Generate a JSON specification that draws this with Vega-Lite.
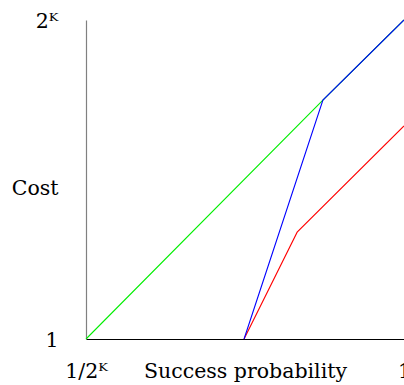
{
  "$schema": "https://vega.github.io/schema/vega-lite/v6.json",
  "width": 318,
  "height": 319,
  "autosize": "none",
  "padding": {"left": 86, "top": 20, "right": 0, "bottom": 46},
  "background": "white",
  "config": {
    "view": {"stroke": null},
    "font": "DejaVu Serif",
    "axis": {"grid": false, "ticks": false, "labelFont": "DejaVu Serif", "titleFont": "DejaVu Serif", "labelFontSize": 20.5, "titleFontSize": 20.5, "labelColor": "black", "titleColor": "black", "titleFontWeight": "normal"}
  },
  "data": {
    "values": [
      {"series": "green", "x": 0, "y": 0, "o": 0},
      {"series": "green", "x": 0.745, "y": 0.749, "o": 1},
      {"series": "green", "x": 1, "y": 1, "o": 2},
      {"series": "red", "x": 0.497, "y": 0, "o": 0},
      {"series": "red", "x": 0.664, "y": 0.335, "o": 1},
      {"series": "red", "x": 1, "y": 0.668, "o": 2},
      {"series": "blue", "x": 0.497, "y": 0, "o": 0},
      {"series": "blue", "x": 0.745, "y": 0.749, "o": 1},
      {"series": "blue", "x": 1, "y": 1, "o": 2}
    ]
  },
  "encoding": {
    "x": {
      "field": "x", "type": "quantitative",
      "scale": {"domain": [0, 1], "nice": false, "zero": false},
      "axis": {
        "values": [0, 1],
        "labelExpr": "datum.value == 0 ? '1/2ᴷ' : '1'",
        "labelFlush": false, "labelOverlap": false,
        "labelBaseline": "alphabetic", "labelPadding": 38, "tickSize": 0,
        "domainColor": "black", "domainWidth": 1.2,
        "title": "Success probability",
        "titleBaseline": "alphabetic", "titleY": 38, "titlePadding": 0
      }
    },
    "y": {
      "field": "y", "type": "quantitative",
      "scale": {"domain": [0, 1], "nice": false, "zero": false},
      "axis": {
        "values": [0, 1],
        "labelExpr": "datum.value == 1 ? '2ᴷ' : '1'",
        "labelFlush": false, "labelOverlap": false,
        "labelAlign": "right", "labelBaseline": "alphabetic", "labelOffset": 7,
        "labelPadding": 28, "tickSize": 0,
        "domainColor": "#808080", "domainWidth": 1.2,
        "title": "Cost", "titleAngle": 0, "titleAlign": "right",
        "titleBaseline": "alphabetic", "titleX": -28, "titleY": 174
      }
    },
    "order": {"field": "o", "type": "quantitative"}
  },
  "layer": [
    {"transform": [{"filter": "datum.series == 'green'"}], "mark": {"type": "line", "color": "#00ee00", "strokeWidth": 1.1}},
    {"transform": [{"filter": "datum.series == 'red'"}], "mark": {"type": "line", "color": "#ff0000", "strokeWidth": 1.1}},
    {"transform": [{"filter": "datum.series == 'blue'"}], "mark": {"type": "line", "color": "#0000ff", "strokeWidth": 1.1}}
  ]
}
